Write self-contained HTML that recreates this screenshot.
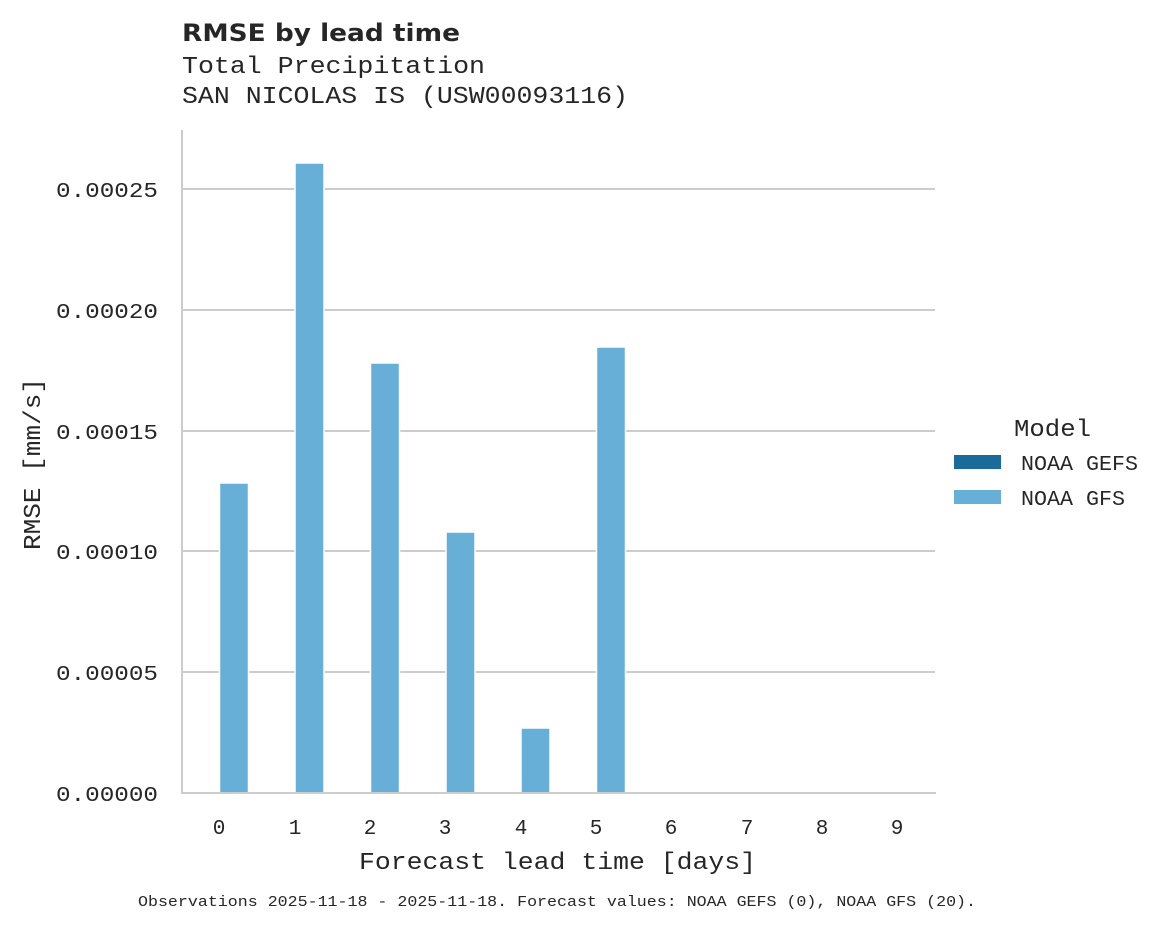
<!DOCTYPE html>
<html><head><meta charset="utf-8"><style>
body{margin:0;background:#fff;}
svg text{font-family:"Liberation Mono","DejaVu Sans Mono",monospace;fill:#262626;}
</style></head><body>
<svg width="1175" height="928" viewBox="0 0 1175 928" xmlns="http://www.w3.org/2000/svg">
<rect width="1175" height="928" fill="#fff"/>
<text x="182" y="41" textLength="278" lengthAdjust="spacingAndGlyphs" style="font-family:'DejaVu Sans',sans-serif;font-weight:bold;font-size:24px">RMSE by lead time</text>
<text x="182" y="73" font-size="24" textLength="303" lengthAdjust="spacingAndGlyphs">Total Precipitation</text>
<text x="182" y="103" font-size="24" textLength="446" lengthAdjust="spacingAndGlyphs">SAN NICOLAS IS (USW00093116)</text>
<g stroke="#cccccc" stroke-width="2">
<line x1="183" y1="189" x2="935" y2="189"/>
<line x1="183" y1="310" x2="935" y2="310"/>
<line x1="183" y1="431" x2="935" y2="431"/>
<line x1="183" y1="551" x2="935" y2="551"/>
<line x1="183" y1="672" x2="935" y2="672"/>
</g>
<g fill="#67afd7" stroke="#fff" stroke-width="1.5">
<rect x="219.5" y="483" width="29" height="310"/>
<rect x="295" y="163" width="29" height="630"/>
<rect x="370.5" y="363" width="29" height="430"/>
<rect x="446" y="532" width="29" height="261"/>
<rect x="521" y="728" width="29" height="65"/>
<rect x="596.5" y="347" width="29" height="446"/>
</g>
<line x1="182" y1="130" x2="182" y2="794" stroke="#cccccc" stroke-width="2"/>
<line x1="181" y1="793" x2="936" y2="793" stroke="#cccccc" stroke-width="2"/>
<g font-size="21" text-anchor="end">
<text x="158" y="197" textLength="102" lengthAdjust="spacingAndGlyphs">0.00025</text>
<text x="158" y="318" textLength="102" lengthAdjust="spacingAndGlyphs">0.00020</text>
<text x="158" y="439" textLength="102" lengthAdjust="spacingAndGlyphs">0.00015</text>
<text x="158" y="559" textLength="102" lengthAdjust="spacingAndGlyphs">0.00010</text>
<text x="158" y="680" textLength="102" lengthAdjust="spacingAndGlyphs">0.00005</text>
<text x="158" y="801" textLength="102" lengthAdjust="spacingAndGlyphs">0.00000</text>
</g>
<g font-size="21" text-anchor="middle">
<text x="219" y="834">0</text><text x="295" y="834">1</text><text x="370" y="834">2</text>
<text x="445" y="834">3</text><text x="521" y="834">4</text><text x="596" y="834">5</text>
<text x="671" y="834">6</text><text x="747" y="834">7</text><text x="822" y="834">8</text>
<text x="897" y="834">9</text>
</g>
<text x="359" y="869" font-size="24" textLength="397" lengthAdjust="spacingAndGlyphs">Forecast lead time [days]</text>
<text transform="translate(40,550) rotate(-90)" font-size="24" textLength="172" lengthAdjust="spacingAndGlyphs">RMSE [mm/s]</text>
<text x="1014" y="436" font-size="24" textLength="77" lengthAdjust="spacingAndGlyphs">Model</text>
<rect x="954" y="455" width="47" height="14" fill="#1a6b9a"/>
<text x="1021" y="470" font-size="21" textLength="117" lengthAdjust="spacingAndGlyphs">NOAA GEFS</text>
<rect x="954" y="490" width="47" height="14" fill="#67afd7"/>
<text x="1021" y="505" font-size="21" textLength="104" lengthAdjust="spacingAndGlyphs">NOAA GFS</text>
<text x="138" y="906" font-size="14.5" textLength="838" lengthAdjust="spacingAndGlyphs">Observations 2025-11-18 - 2025-11-18. Forecast values: NOAA GEFS (0), NOAA GFS (20).</text>
</svg>
</body></html>
